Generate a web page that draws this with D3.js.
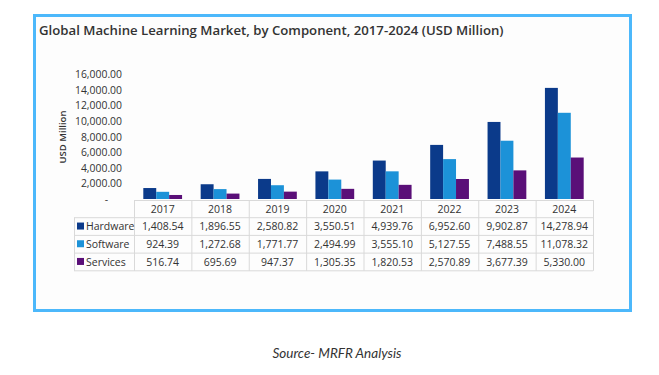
<!DOCTYPE html>
<html>
<head>
<meta charset="utf-8">
<script src="https://cdn.jsdelivr.net/npm/d3@7"></script>
<style>
  body { margin: 0; background: #fff; }
  svg { display: block; }
</style>
</head>
<body>
<div id="chart"></div>
<script>
// data
const years = ["2017", "2018", "2019", "2020", "2021", "2022", "2023", "2024"];
const seriesNames = ["Hardware", "Software", "Services"];
const hardware = [1408.54, 1896.55, 2580.82, 3550.51, 4939.76, 6952.60, 9902.87, 14278.94];
const software = [924.39, 1272.68, 1771.77, 2494.99, 3555.10, 5127.55, 7488.55, 11078.32];
const services = [516.74, 695.69, 947.37, 1305.35, 1820.53, 2570.89, 3677.39, 5330.00];
const yTicks = [0, 2000, 4000, 6000, 8000, 10000, 12000, 14000, 16000];
const colors = ["#0b3a8a", "#1c92d8", "#5a0f78"];

const values = [hardware, software, services];
const W = 659, H = 375;
const fmt = d3.format(",.2f");

const svg = d3.select("#chart").append("svg")
  .attr("width", W).attr("height", H);

// framed panel
svg.append("rect")
  .attr("x", 34.5).attr("y", 15.5).attr("width", 596).attr("height", 295)
  .attr("fill", "#fdfdfd").attr("stroke", "#4cb8fb").attr("stroke-width", 3);

svg.append("text")
  .attr("x", 39).attr("y", 35)
  .attr("font-family", "Open Sans").attr("font-weight", 600).attr("font-size", 13.2)
  .attr("fill", "#333")
  .text("Global Machine Learning Market, by Component, 2017-2024 (USD Million)");

const x = d3.scaleBand().domain(years).range([134, 593]);
const xs = d3.scaleBand().domain(seriesNames).range([0, x.bandwidth()]).paddingOuter(0.72);
const y = d3.scaleLinear().domain([0, 16000]).range([199, 74.5]);

// y axis labels
const yAxis = d3.axisLeft(y).tickValues(yTicks)
  .tickFormat(d => d === 0 ? "-" : fmt(d)).tickSize(0).tickPadding(0);
const ga = svg.append("g").attr("transform", "translate(122,0)").call(yAxis);
ga.select(".domain").remove();
ga.selectAll("text")
  .attr("font-family", "Open Sans").attr("font-size", 10.4).attr("fill", "#333");
ga.selectAll(".tick").filter(d => d === 0).select("text").attr("dx", -14);

svg.append("text")
  .attr("transform", "translate(66,137) rotate(-90)")
  .attr("text-anchor", "middle")
  .attr("font-family", "Open Sans").attr("font-weight", 600).attr("font-size", 9.5)
  .attr("fill", "#333")
  .text("USD Million");

// bars
seriesNames.forEach((s, i) => {
  svg.append("g").selectAll("rect")
    .data(values[i])
    .join("rect")
    .attr("x", (d, j) => x(years[j]) + xs(s))
    .attr("y", d => y(d))
    .attr("width", xs.bandwidth())
    .attr("height", d => y(0) - y(d))
    .attr("fill", colors[i]);
});

// data table
const rowH = 17.7;
const tTop = 200;
const tLeft = 74;
const grid = svg.append("g").attr("stroke", "#d9d9d9").attr("stroke-width", 1).attr("fill", "none");
grid.append("line").attr("x1", x.range()[0]).attr("x2", x.range()[1]).attr("y1", tTop + 0.5).attr("y2", tTop + 0.5);
for (let r = 1; r <= 4; r++) {
  grid.append("line").attr("x1", tLeft).attr("x2", x.range()[1])
    .attr("y1", tTop + r * rowH).attr("y2", tTop + r * rowH);
}
grid.append("line").attr("x1", tLeft + 0.5).attr("x2", tLeft + 0.5).attr("y1", tTop + rowH).attr("y2", tTop + 4 * rowH);
years.forEach(yr => {
  grid.append("line").attr("x1", x(yr) + 0.5).attr("x2", x(yr) + 0.5).attr("y1", tTop).attr("y2", tTop + 4 * rowH);
});
grid.append("line").attr("x1", x.range()[1] + 0.5).attr("x2", x.range()[1] + 0.5).attr("y1", tTop).attr("y2", tTop + 4 * rowH);

const tt = svg.append("g")
  .attr("font-family", "Open Sans").attr("font-size", 10.5).attr("fill", "#333");

tt.selectAll(".yr").data(years).join("text")
  .attr("x", d => x(d) + x.bandwidth() / 2)
  .attr("y", tTop + rowH / 2 + 3.8)
  .attr("text-anchor", "middle")
  .text(d => d);

seriesNames.forEach((s, i) => {
  const cy = tTop + rowH * (i + 1) + rowH / 2;
  svg.append("rect").attr("x", tLeft + 3).attr("y", cy - 4).attr("width", 7).attr("height", 7).attr("fill", colors[i]);
  tt.append("text").attr("x", tLeft + 12).attr("y", cy + 3.8).text(s);
  tt.append("g").selectAll("text").data(values[i]).join("text")
    .attr("x", (d, j) => x(years[j]) + x.bandwidth() / 2)
    .attr("y", cy + 3.8)
    .attr("text-anchor", "middle")
    .text(d => fmt(d));
});

svg.append("text")
  .attr("x", 337).attr("y", 358)
  .attr("text-anchor", "middle")
  .attr("font-family", "Lato").attr("font-style", "italic").attr("font-size", 13.5)
  .attr("fill", "#333")
  .text("Source- MRFR Analysis");
</script>
</body>
</html>
